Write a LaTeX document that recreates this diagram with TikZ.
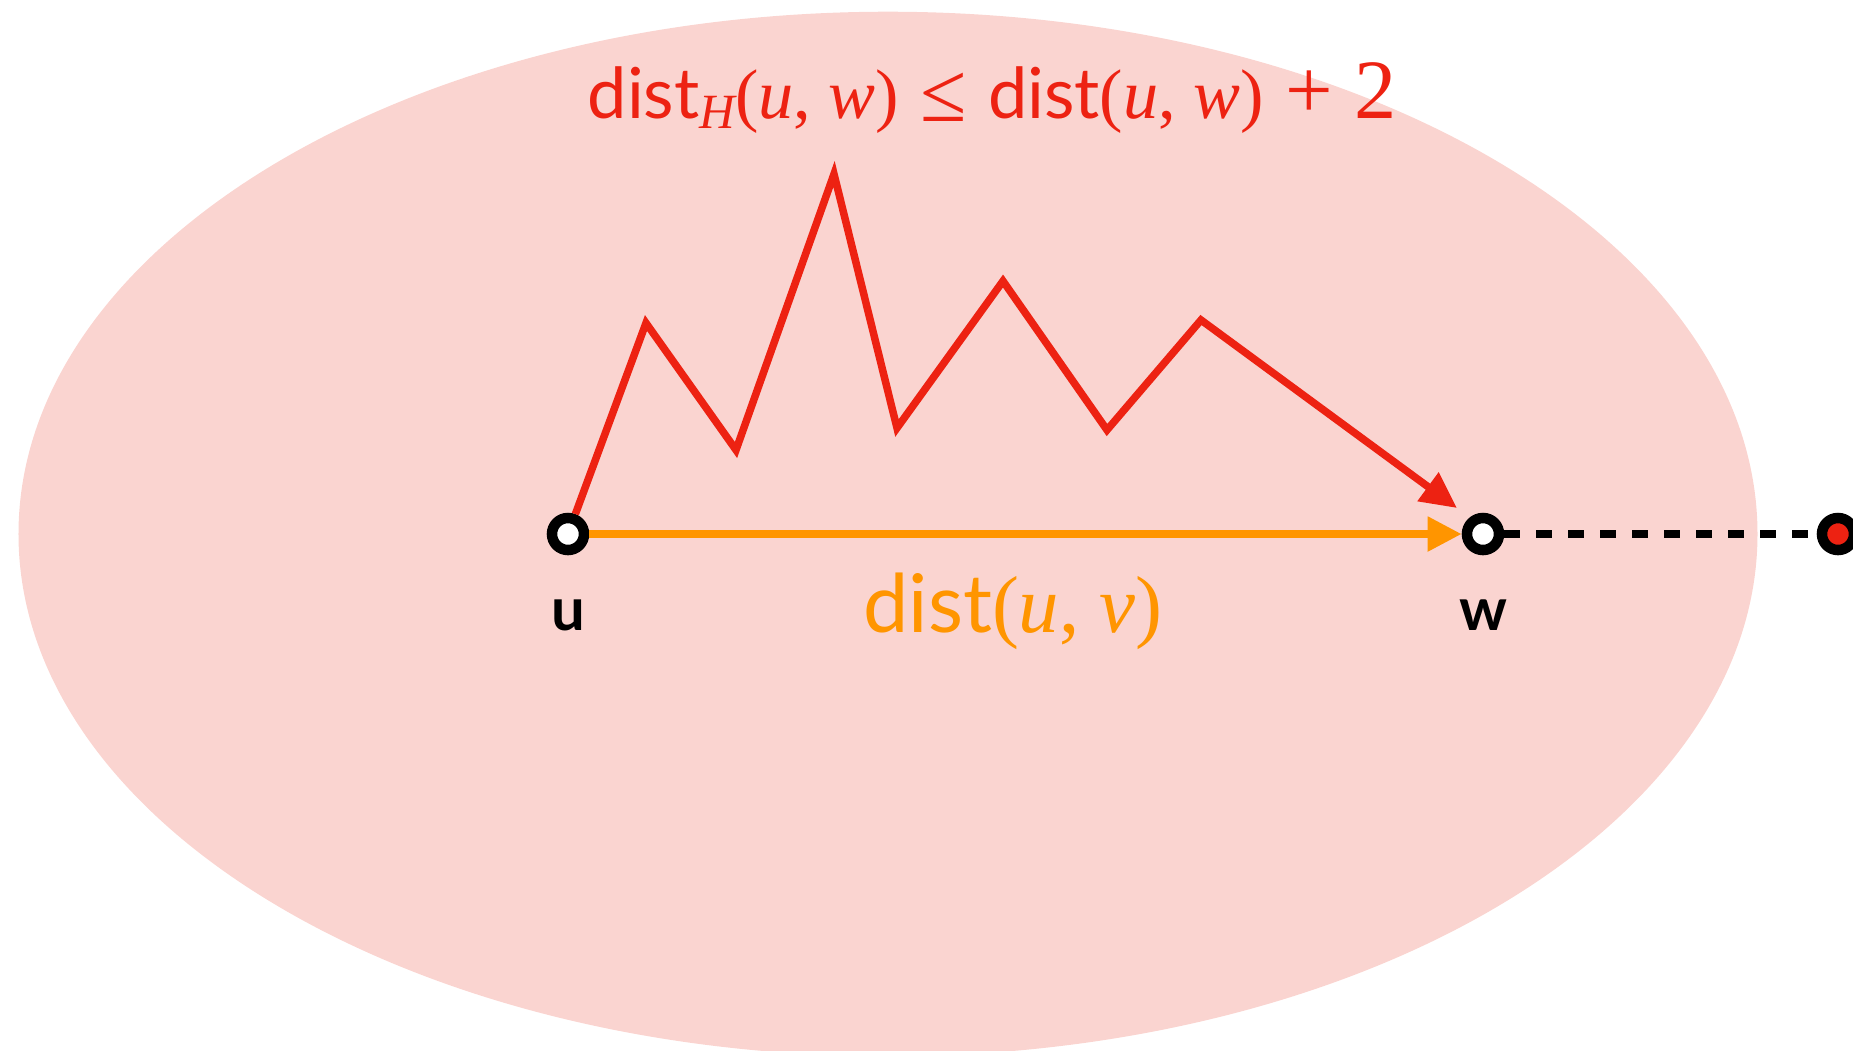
\documentclass[tikz,border=0pt]{standalone}
\usepackage{fontspec}
\usetikzlibrary{arrows.meta}
\newfontfamily\distfont{Lato}
\newfontfamily\mfont{Liberation Serif}
\newfontfamily\lblfont{Lato}
\definecolor{pinkfill}{RGB}{250,212,208}
\definecolor{pathred}{RGB}{237,34,18}
\definecolor{distorange}{RGB}{255,149,0}
\newcommand\Dist{{\distfont dist}}
\newcommand\Mi[1]{{\mfont\itshape #1}}
\newcommand\Mr[1]{{\mfont #1}}
\newcommand\BigSym[1]{\scalebox{1.2}{\mfont #1}}
\begin{document}
\begin{tikzpicture}[x=0.01cm,y=-0.01cm,
  vertex/.style={circle, draw=black, line width=0.105cm, fill=white, minimum size=0.32cm, inner sep=0pt},
  endvertex/.style={vertex, fill=pathred},
  pathline/.style={draw=pathred, line width=0.075cm, line join=miter, -{Triangle[length=0.36cm,width=0.34cm]}},
  shortline/.style={draw=distorange, line width=0.08cm, -{Triangle[length=0.34cm,width=0.33cm]}},
  dashline/.style={draw=black, line width=0.085cm, dash pattern=on 0.16cm off 0.16cm},
  vlabel/.style={anchor=base, inner sep=0pt, font=\lblfont\bfseries\fontsize{17}{17}\selectfont},
  toplabel/.style={anchor=base, inner sep=0pt, text=pathred, font=\fontsize{20}{20}\selectfont},
  botlabel/.style={anchor=base, inner sep=0pt, text=distorange, font=\fontsize{23}{23}\selectfont}]
\clip (0,0) rectangle (1853,1050);
\fill[pinkfill] (888,534) ellipse [x radius=8.69cm, y radius=5.22cm];
\node[vertex] (u) at (568,534) {};
\node[vertex] (w) at (1483,534) {};
\node[endvertex] (x) at (1838,534) {};
\coordinate (redtip) at (1457,508);
\draw[shortline] (u) -- (w);
\draw[pathline] (u) -- (646,323) -- (736,450) -- (834,174) -- (897,428) -- (1003,281) -- (1107,430) -- (1201,320) -- (redtip);
\draw[dashline] (w) -- (x);
\node[vlabel] (ulabel) at (568,630) {u};
\node[vlabel] (wlabel) at (1483,630) {w};
\node[toplabel] (toplab) at (992,118) {\Dist\raisebox{-0.35ex}{\fontsize{14}{14}\selectfont\Mi{H}}\Mr{(}\Mi{u}\Mr{, }\Mi{w}\Mr{)} \raisebox{-0.12ex}{\BigSym{≤}} \Dist\Mr{(}\Mi{u}\Mr{, }\Mi{w}\Mr{)} \BigSym{+} \BigSym{2}};
\node[botlabel] (botlab) at (1013,632) {\Dist\Mr{(}\Mi{u}\Mr{, }\Mi{v}\Mr{)}};
\end{tikzpicture}
\end{document}
